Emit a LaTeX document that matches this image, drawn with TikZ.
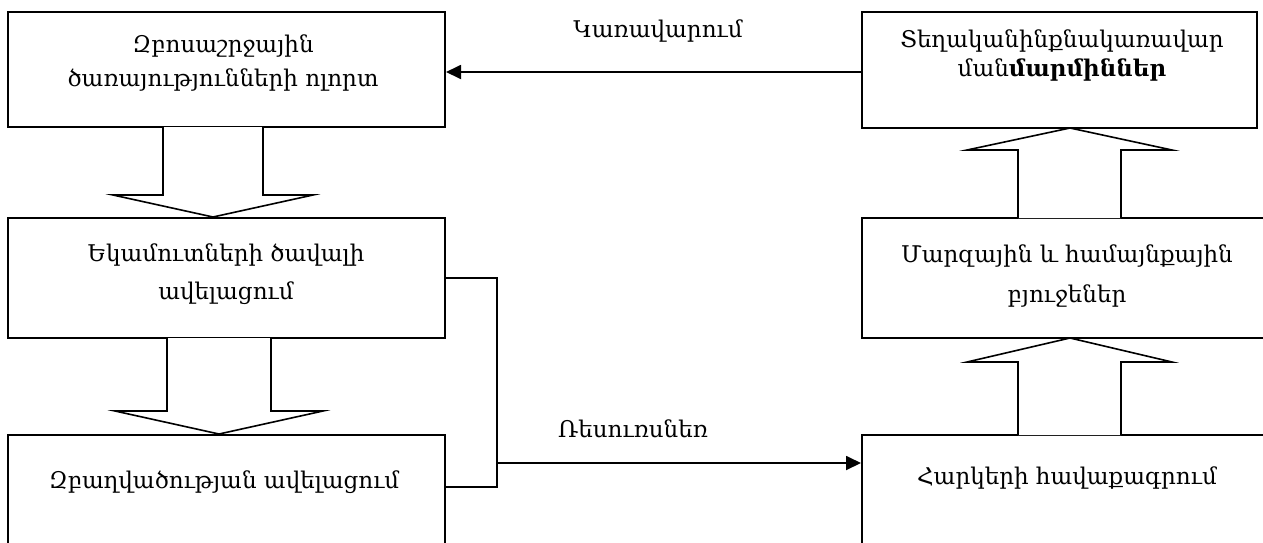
\documentclass[tikz,border=0pt]{standalone}
\usepackage{fontspec}
\setmainfont{DejaVu Serif}
\usetikzlibrary{arrows.meta,calc}

\tikzset{
  blok/.style={draw, line width=2pt, fill=white, inner sep=0pt},
  metn/.style={align=center, inner sep=0pt},
  lar/.style={draw, line width=1.6pt, fill=white, line join=miter},
  kap/.style={line width=1.8pt},
  slak/.style={-{Triangle[length=15pt,width=14pt]}},
}

\begin{document}
\begin{tikzpicture}[x=1pt, y=-1pt, every node/.style={font=\fontsize{23}{38}\selectfont}]
\useasboundingbox (0,0) rectangle (1263,542);
\clip (0,0) rectangle (1263,542);
%% --- Left column ---
\node[blok, minimum width=437pt, minimum height=115pt] (zbos) at (226.5,69.5) {};
\node[metn, font=\fontsize{23}{34}\selectfont] (zbost) at (223,63)
  {Զբոսաշրջային\\ծառայությունների ոլորտ};
\node[blok, minimum width=437pt, minimum height=120pt] (ekam) at (226.5,278) {};
\node[metn] (ekamt) at (226,274) {Եկամուտների ծավալի\\ավելացում};
\node[blok, minimum width=437pt, minimum height=130pt] (zbagh) at (226.5,500) {};
\node[metn] (zbaght) at (224,482) {Զբաղվածության ավելացում};
% block arrows down
\path[lar] (163,127) -- (163,195) -- (113,195) -- (213,217) -- (313,195) -- (263,195) -- (263,127);
\path[lar] (167,338) -- (167,411) -- (115,411) -- (219,434) -- (323,411) -- (271,411) -- (271,338);
%% --- Right column ---
\node[blok, minimum width=395pt, minimum height=116pt] (tegh) at (1059.5,70) {};
\node[metn, font=\fontsize{23}{29}\selectfont] (teght) at (1062,55)
  {Տեղականինքնակառավար\\ման{\bfseries մարմիններ}};
\node[blok, minimum width=410pt, minimum height=120pt] (marz) at (1067,278) {};
\node[metn, font=\fontsize{23}{40}\selectfont] (marzt) at (1067,276)
  {Մարզային և համայնքային\\բյուջեներ};
\node[blok, minimum width=410pt, minimum height=130pt] (hark) at (1067,500) {};
\node[metn] (harkt) at (1067,478) {Հարկերի հավաքագրում};
% block arrows up
\path[lar] (1018,218) -- (1018,150) -- (967,150) -- (1070,128) -- (1172,150) -- (1121,150) -- (1121,218);
\path[lar] (1018,435) -- (1018,362) -- (967,362) -- (1070,338) -- (1172,362) -- (1121,362) -- (1121,435);
%% --- Connectors ---
\draw[kap, slak] ($(tegh.west)+(0,2)$) -- ($(zbos.east |- tegh.west)+(0,2)$);
\node[metn] (kar) at (658,31) {Կառավարում};
\coordinate (hang) at (497,463);
\draw[kap] (ekam.east) -| (hang) |- ($(zbagh.east)+(0,-13)$);
\draw[kap, slak] (hang) -- (hark.west |- hang);
\node[metn] (res) at (633,429) {Ռեսուռսնեռ};
\end{tikzpicture}
\end{document}
